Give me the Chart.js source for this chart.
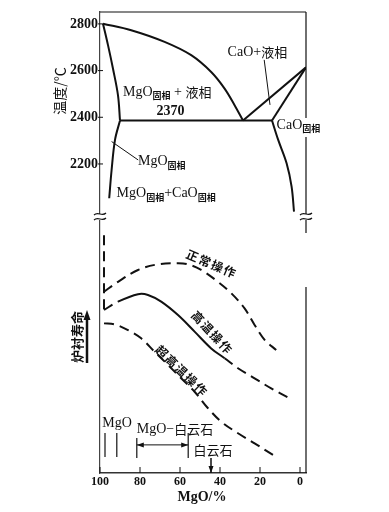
<!DOCTYPE html>
<html>
<head>
<meta charset="utf-8">
<script src="https://cdn.jsdelivr.net/npm/chart.js@4/dist/chart.umd.min.js"></script>
<style>
  html, body { margin: 0; padding: 0; background: #fff; }
  canvas { display: block; }
</style>
</head>
<body>
<canvas id="chart" width="389" height="512"></canvas>
<script>
// x: MgO content (%), axis runs 100 -> 0
const xTicks = [100, 80, 60, 40, 20, 0];
const tempTicks = [2200, 2400, 2600, 2800];

// CaO-MgO phase diagram, [MgO %, temperature C]
const liquidusMgO = [[98.5, 2801], [84.4, 2773], [67.7, 2723], [54.4, 2666], [44.4, 2594], [37.7, 2523], [32.7, 2452], [28.5, 2386]];
const liquidusCaO = [[28.5, 2386], [-3, 2614]];
const solidusMgO = [[98.5, 2801], [96, 2709], [93.5, 2608], [91, 2494], [90, 2386]];
const solvusMgO = [[90, 2386], [92.5, 2303], [94.2, 2174], [95.4, 2053]];
const solidusCaO = [[14, 2386], [-3, 2614]];
const solvusCaO = [[14, 2386], [10.9, 2303], [6.7, 2203], [4.2, 2103], [3, 1996]];
const eutectic = [[90, 2386], [14, 2386]];
const leaderLiquid = [[17.9, 2646], [15, 2453]];
const leaderSolid = [[94.2, 2296], [80.9, 2217]];

// lining life (relative units), [MgO %, life]
const lifeNormal = [[98, 70.3], [91, 74.1], [81, 78.7], [71, 80.9], [61, 81.3], [56, 80.9], [49.4, 78.7], [41, 74.1], [34.4, 69.7], [27.7, 63.8], [22.7, 57.4], [17.7, 51.6], [11.9, 47.7]];
const lifeHigh = [[98, 63.2], [91, 66.4], [81, 69.3], [76, 69.0], [69.4, 66.4], [61, 61.2], [52.7, 54.8], [44.4, 48.3], [37.7, 44.5], [31, 40.6], [22.7, 36.7], [14.4, 32.8], [5.2, 29.0]];
const lifeSuper = [[98, 58.0], [92.7, 57.6], [86, 55.4], [79.4, 52.2], [72.7, 47.0], [66, 41.9], [59.4, 36.7], [52.7, 31.5], [46, 25.1], [39.4, 19.9], [31, 15.4], [22.7, 11.5], [13.5, 7.0]];
const lifePureMgO = [[98, 92.2], [98, 63.2]];

// product ranges at the foot of the chart
const mgoBars = [[97.5, 6.2, 15.5], [91.6, 6.2, 15.5]];
const doloBars = [[81.6, 5.8, 13.6], [55.9, 5.8, 15.5]];
const doloSpan = [[81.6, 10.9], [55.9, 10.9]];
const dolomiteArrow = [[44.5, 5.8], [44.5, 0]];

const LAT = '14px "Liberation Serif"';
const LATB = 'bold 14px "Liberation Serif"';
const CJK = '13px "Noto Sans CJK SC"';
const SUB = 'bold 9px "Noto Sans CJK SC"';

const pts = a => a.map(([x, y]) => ({ x, y }));
const line = (data, extra) => Object.assign({
  data: pts(data), borderColor: '#111', borderWidth: 2, pointRadius: 0,
  tension: 0, fill: false, yAxisID: 'y'
}, extra);

const dash = [10, 6];
const datasets = [
  line(liquidusMgO, { tension: 0.35 }),
  line(liquidusCaO),
  line(solidusMgO, { tension: 0.35 }),
  line(solvusMgO, { tension: 0.35 }),
  line(solidusCaO),
  line(solvusCaO, { tension: 0.35 }),
  line(eutectic),
  line(leaderLiquid, { borderWidth: 1 }),
  line(leaderSolid, { borderWidth: 1 }),
  line(lifeNormal, { yAxisID: 'yL', tension: 0.35, borderDash: dash }),
  line(lifeHigh, {
    yAxisID: 'yL', tension: 0.35,
    segment: { borderDash: c => (c.p0.parsed.x > 92 || c.p0.parsed.x < 38) ? dash : undefined }
  }),
  line(lifeSuper, { yAxisID: 'yL', tension: 0.35, borderDash: dash }),
  line(lifePureMgO, { yAxisID: 'yL', borderDash: dash }),
  line(doloSpan, { yAxisID: 'yL', borderWidth: 1 }),
  line(dolomiteArrow, { yAxisID: 'yL', borderWidth: 1.5 })
];
mgoBars.concat(doloBars).forEach(([x, y0, y1]) => {
  datasets.push(line([[x, y0], [x, y1]], { yAxisID: 'yL', borderWidth: 1.2 }));
});

// mixed latin / cjk / subscript text
function drawRuns(ctx, x, y, parts, align) {
  const fonts = { l: LAT, b: LATB, c: CJK, s: SUB };
  let w = 0;
  parts.forEach(p => { ctx.font = fonts[p[1]]; w += ctx.measureText(p[0]).width; });
  let cx = align === 'center' ? x - w / 2 : x;
  ctx.textAlign = 'left';
  ctx.textBaseline = 'middle';
  parts.forEach(p => {
    ctx.font = fonts[p[1]];
    ctx.fillText(p[0], cx, p[1] === 's' ? y + 4 : y);
    cx += ctx.measureText(p[0]).width;
  });
}

function rotText(ctx, text, x, y, deg, font, spacing) {
  ctx.save();
  ctx.translate(x, y);
  ctx.rotate(deg * Math.PI / 180);
  ctx.font = font;
  ctx.textAlign = 'left';
  ctx.textBaseline = 'middle';
  const sp = spacing || 0;
  const chars = [...text];
  const widths = chars.map(ch => ctx.measureText(ch).width);
  const total = widths.reduce((s, w) => s + w, 0) + sp * (chars.length - 1);
  let cx = -total / 2;
  chars.forEach((ch, i) => { ctx.fillText(ch, cx, 0); cx += widths[i] + sp; });
  ctx.restore();
}

function breakMark(ctx, x, y) {
  ctx.save();
  ctx.fillStyle = '#fff';
  ctx.fillRect(x - 3, y - 2, 6, 6);
  ctx.strokeStyle = '#111';
  ctx.lineWidth = 1.2;
  [y - 2, y + 3].forEach(yy => {
    ctx.beginPath();
    ctx.moveTo(x - 6, yy + 1);
    ctx.bezierCurveTo(x - 2, yy - 3, x + 2, yy + 3, x + 6, yy - 1);
    ctx.stroke();
  });
  ctx.restore();
}

const decor = {
  id: 'decor',
  afterDraw(chart) {
    const { ctx, chartArea: a, scales: { x, y, yL } } = chart;
    const px = v => x.getPixelForValue(v);
    ctx.save();
    ctx.fillStyle = '#111';
    ctx.strokeStyle = '#111';

    // frame: top and right side
    ctx.lineWidth = 1.2;
    ctx.beginPath();
    ctx.moveTo(a.left, a.top); ctx.lineTo(a.right, a.top);
    [[a.top, 118], [137, 214], [220, 233], [287, a.bottom]].forEach(([t, b]) => {
      ctx.moveTo(a.right, t); ctx.lineTo(a.right, b);
    });
    ctx.stroke();
    breakMark(ctx, a.left, 216);
    breakMark(ctx, a.right, 216);

    // tick dashes on the temperature axis, inner ticks on the x axis
    ctx.lineWidth = 1;
    ctx.beginPath();
    tempTicks.forEach(t => { const yy = y.getPixelForValue(t); ctx.moveTo(a.left - 2, yy); ctx.lineTo(a.left + 3, yy); });
    xTicks.forEach(v => { ctx.moveTo(px(v), a.bottom); ctx.lineTo(px(v), a.bottom - 6); });
    ctx.stroke();

    // axis titles
    rotText(ctx, '温度/℃', 60, 91, -90, '14px "Noto Sans CJK SC"');
    rotText(ctx, '炉衬寿命', 77, 337, -90, 'bold 13px "Noto Sans CJK SC"');
    ctx.lineWidth = 2.5;
    ctx.beginPath(); ctx.moveTo(87, 363); ctx.lineTo(87, 318); ctx.stroke();
    ctx.beginPath(); ctx.moveTo(87, 310); ctx.lineTo(83.5, 320); ctx.lineTo(90.5, 320); ctx.closePath(); ctx.fill();
    drawRuns(ctx, (a.left + a.right) / 2 - 1, 497, [['MgO/%', 'b']], 'center');

    // phase labels
    const T = (v, t) => [px(v), y.getPixelForValue(t)];
    drawRuns(ctx, ...T(21.3, 2680), [['CaO+', 'l'], ['液相', 'c']], 'center');
    drawRuns(ctx, ...T(88.5, 2509), [['MgO', 'l'], ['固相', 's'], [' + ', 'l'], ['液相', 'c']], 'left');
    drawRuns(ctx, ...T(64.8, 2427), [['2370', 'b']], 'center');
    drawRuns(ctx, ...T(11.7, 2367), [['CaO', 'l'], ['固相', 's']], 'left');
    drawRuns(ctx, ...T(81, 2210), [['MgO', 'l'], ['固相', 's']], 'left');
    drawRuns(ctx, ...T(91.7, 2074), [['MgO', 'l'], ['固相', 's'], ['+', 'l'], ['CaO', 'l'], ['固相', 's']], 'left');

    // life curve labels
    const L = (v, l) => [px(v), yL.getPixelForValue(l)];
    const cf = 'bold 12px "Noto Sans CJK SC"';
    rotText(ctx, '正常操作', ...L(44.5, 81.2), 23, cf, 1.5);
    rotText(ctx, '高温操作', ...L(44.1, 54.6), 47, cf, 1.5);
    rotText(ctx, '超高温操作', ...L(59.4, 39.8), 44, cf, 1.5);
    drawRuns(ctx, ...L(91.5, 19.4), [['MgO', 'l']], 'center');
    drawRuns(ctx, ...L(62.5, 17), [['MgO−', 'l'], ['白云石', 'c']], 'center');
    drawRuns(ctx, ...L(43.5, 8.9), [['白云石', 'c']], 'center');

    // arrow heads
    const head = (v, l, dx, dy) => {
      const [hx, hy] = L(v, l);
      ctx.beginPath();
      ctx.moveTo(hx, hy);
      ctx.lineTo(hx - dx * 7 - dy * 2.5, hy - dy * 7 - dx * 2.5);
      ctx.lineTo(hx - dx * 7 + dy * 2.5, hy - dy * 7 + dx * 2.5);
      ctx.closePath();
      ctx.fill();
    };
    head(doloSpan[0][0], doloSpan[0][1], -1, 0);
    head(doloSpan[1][0], doloSpan[1][1], 1, 0);
    head(dolomiteArrow[1][0], dolomiteArrow[1][1], 0, 1);
    ctx.restore();
  }
};

new Chart(document.getElementById('chart'), {
  type: 'line',
  data: { datasets },
  options: {
    responsive: false,
    animation: false,
    events: [],
    layout: { padding: { top: 12, right: 83, left: 0, bottom: 0 } },
    plugins: { legend: { display: false }, tooltip: { enabled: false } },
    scales: {
      x: {
        type: 'linear', reverse: true, min: -3, max: 100,
        afterBuildTicks: s => { s.ticks = xTicks.map(v => ({ value: v })); },
        afterFit: s => { s.height = 39; },
        grid: { drawOnChartArea: false, drawTicks: false },
        border: { color: '#333', width: 1.5 },
        ticks: { font: { family: 'Liberation Serif', size: 12, weight: 'bold' }, color: '#111', padding: 2, maxRotation: 0, autoSkip: false, callback: v => String(v) }
      },
      y: {
        type: 'linear', min: 876, max: 2851,
        afterBuildTicks: s => { s.ticks = tempTicks.map(v => ({ value: v })); },
        afterFit: s => { s.width = 100; },
        grid: { drawOnChartArea: false, drawTicks: false },
        border: { color: '#444', width: 1.2 },
        ticks: { font: { family: 'Liberation Serif', size: 14, weight: 'bold' }, color: '#111', padding: 2, callback: v => String(v) }
      },
      yL: { type: 'linear', min: 0, max: 178.7, display: false }
    }
  },
  plugins: [decor]
});
</script>
</body>
</html>
